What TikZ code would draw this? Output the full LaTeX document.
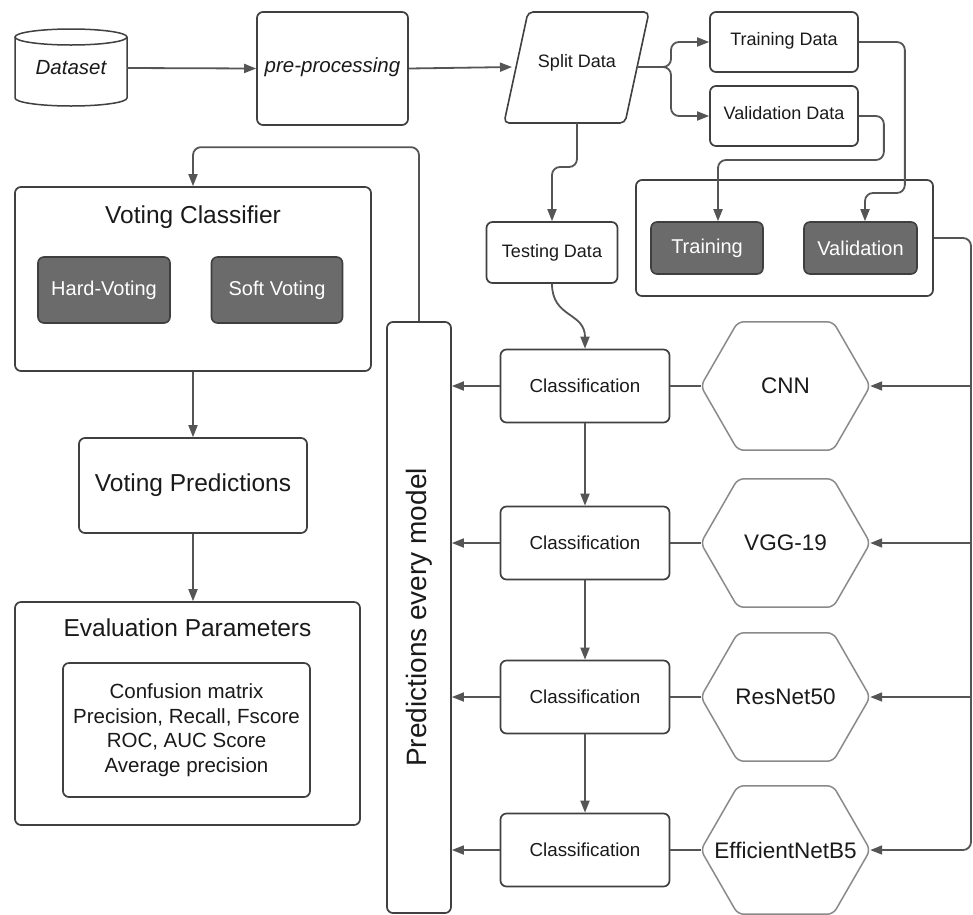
\documentclass[tikz,border=0pt]{standalone}
\usepackage{fontspec}
\usepackage{graphicx}
\setmainfont{Liberation Sans}
\usetikzlibrary{arrows.meta,calc}
\definecolor{boxc}{HTML}{404040}
\definecolor{linec}{HTML}{555555}
\definecolor{hexc}{HTML}{8A8A8A}
\definecolor{darkf}{HTML}{6B6B6B}
\definecolor{darkb}{HTML}{3F3F3F}
\definecolor{txt}{HTML}{1A1A1A}
\begin{document}
\begin{tikzpicture}[x=1pt,y=-1pt,
  box/.style={draw=boxc, line width=1.7pt, rounded corners=6pt, fill=white, inner sep=0pt, align=center, text=txt},
  darkbox/.style={draw=darkb, fill=darkf, line width=1.6pt, rounded corners=6pt, text=white, inner sep=0pt, font=\fontsize{20}{24}\selectfont},
  plain/.style={inner sep=0pt, align=center, text=txt},
  conn/.style={draw=linec, line width=1.8pt, rounded corners=8pt},
  arr/.style={conn, -{Triangle[length=12pt,width=9pt]}},
  hexline/.style={draw=hexc, line width=1.5pt, rounded corners=6pt, fill=white},
  f18/.style={font=\fontsize{18}{22}\selectfont},
  f22/.style={font=\fontsize{22.5}{27}\selectfont},
  f24/.style={font=\fontsize{24.5}{29}\selectfont},
  hexnode/.style={plain, minimum width=169, minimum height=128, font=\fontsize{22.5}{27}\selectfont},
  clsbox/.style={box, minimum width=169, minimum height=73, font=\fontsize{18.8}{22}\selectfont}
]
\useasboundingbox[fill=white] (0,0) rectangle (973,914);

% Dataset cylinder
\draw[draw=boxc, line width=1.5pt, fill=white] (15,37) -- (15,98) arc[start angle=180, end angle=0, x radius=56, y radius=8] -- (127,37);
\draw[draw=boxc, line width=1.5pt, fill=white] (71,37) ellipse[x radius=56, y radius=8];
\node[plain, minimum width=112, minimum height=77, font=\fontsize{20.5}{24}\selectfont\itshape] (ds) at (71,68) {\raisebox{-4pt}{Dataset}};

% pre-processing
\node[box, minimum width=151, minimum height=113, font=\fontsize{20.5}{24}\selectfont\itshape] (pre) at (332.5,68.5) {\raisebox{6pt}{pre-processing}};

% Split Data parallelogram
\draw[draw=boxc, line width=1.6pt, rounded corners=5pt, fill=white] (528,12) -- (649,12) -- (625,123) -- (504,123) -- cycle;
\node[plain, f18] (split) at (577,63) {Split Data};
\coordinate (splitL) at (512,67);
\coordinate (splitR) at (637,67);
\coordinate (splitB) at (577,123);

% Training / validation data
\node[box, f18, minimum width=148, minimum height=60] (trd) at (784,42) {\raisebox{6pt}{Training Data}};
\node[box, f18, minimum width=148, minimum height=60] (vad) at (784,116) {\raisebox{6pt}{Validation Data}};

% Outer training box
\node[box, minimum width=297, minimum height=116] (tvbox) at (784.5,238) {};
\node[darkbox, minimum width=112, minimum height=52] (trn) at (707,248) {Training};
\node[darkbox, minimum width=113, minimum height=52] (val) at (860.5,248) {Validation};

% Testing data
\node[box, f18, minimum width=131, minimum height=61] (tst) at (552,252.5) {\raisebox{4pt}{Testing Data}};

% Voting classifier
\node[box, minimum width=356, minimum height=184] (vc) at (193,279) {};
\node[plain, f24] (vct) at (193,217) {Voting Classifier};
\node[darkbox, minimum width=132, minimum height=66] (hv) at (104,290) {Hard-Voting};
\node[darkbox, minimum width=131, minimum height=66] (sv) at (277,290) {Soft Voting};

% Voting predictions
\node[box, f24, minimum width=228, minimum height=95] (vp) at (193,485.5) {Voting Predictions};

% Evaluation parameters
\node[box, minimum width=345, minimum height=223] (ev) at (187.5,713.5) {};
\node[plain, f24] (evt) at (187.5,628) {Evaluation Parameters};
\node[box, minimum width=247, minimum height=134, font=\fontsize{20.5}{24.5}\selectfont] (evi) at (186.5,730) {Confusion matrix\\Precision, Recall, Fscore\\ROC, AUC Score\\Average precision};

% Predictions every model
\node[box, minimum width=64, minimum height=591, font=\fontsize{28}{32}\selectfont] (pred) at (419,617.5) {\rotatebox{90}{Predictions every model}};

% Classification boxes
\node[clsbox] (c1) at (585,386) {Classification};
\node[clsbox] (c2) at (585,543) {Classification};
\node[clsbox] (c3) at (585,697) {Classification};
\node[clsbox] (c4) at (585,850) {Classification};

% Hexagons
\foreach \n/\y in {h1/386,h2/543,h3/697,h4/850}{
  \node[hexnode] (\n) at (785.5,\y) {};
}
\foreach \n in {h1,h2,h3,h4}{
  \draw[hexline] (\n.west) -- ($(\n.north west)+(37,0)$) -- ($(\n.north east)+(-37,0)$) -- (\n.east) -- ($(\n.south east)+(-37,0)$) -- ($(\n.south west)+(37,0)$) -- cycle;
}
\node[plain, f22] (t1) at (h1) {CNN};
\node[plain, f22] (t2) at (h2) {VGG-19};
\node[plain, f22] (t3) at (h3) {ResNet50};
\node[plain, f22] (t4) at (h4) {EfficientNetB5};

% Connectors: top row
\draw[arr] (ds.east) -- (pre.west);
\draw[arr] (pre.east) -- (splitL);
\draw[arr] (splitR) -- ++(34,0) |- (trd.west);
\draw[arr] (splitR) -- ++(34,0) |- (vad.west);
\draw[arr] (splitB) -- ++(0,44) -| (tst.north);
\draw[arr] (tst.south) .. controls (552,318) and (585,312) .. (c1.north);

% data to training box
\draw[arr] (trd.east) -- ++(46,0) -- ++(0,151) -| ([xshift=4.5pt]val.north);
\draw[arr] (vad.east) -- ++(25,0) -- ++(0,44) -| ([xshift=11pt]trn.north);

% right feed line
\coordinate (rr) at (971,0);
\draw[arr] (tvbox.east) -- (tvbox.east -| rr) |- (h4.east);
\draw[arr] (rr |- h1.east) -- (h1.east);
\draw[arr] (rr |- h2.east) -- (h2.east);
\draw[arr] (rr |- h3.east) -- (h3.east);

% hex to classification
\draw[conn] (h1.west) -- (c1.east);
\draw[conn] (h2.west) -- (c2.east);
\draw[conn] (h3.west) -- (c3.east);
\draw[conn] (h4.west) -- (c4.east);

% classification chain
\draw[arr] (c1.south) -- (c2.north);
\draw[arr] (c2.south) -- (c3.north);
\draw[arr] (c3.south) -- (c4.north);

% classification to predictions
\draw[arr] (c1.west) -- (c1.west -| pred.east);
\draw[arr] (c2.west) -- (c2.west -| pred.east);
\draw[arr] (c3.west) -- (c3.west -| pred.east);
\draw[arr] (c4.west) -- (c4.west -| pred.east);

% return to voting classifier
\draw[arr] (pred.north) -- ++(0,-174) -| (vc.north);
\draw[arr] (vc.south) -- (vp.north);
\draw[arr] (vp.south) -- (vp.south |- ev.north);
\end{tikzpicture}
\end{document}
